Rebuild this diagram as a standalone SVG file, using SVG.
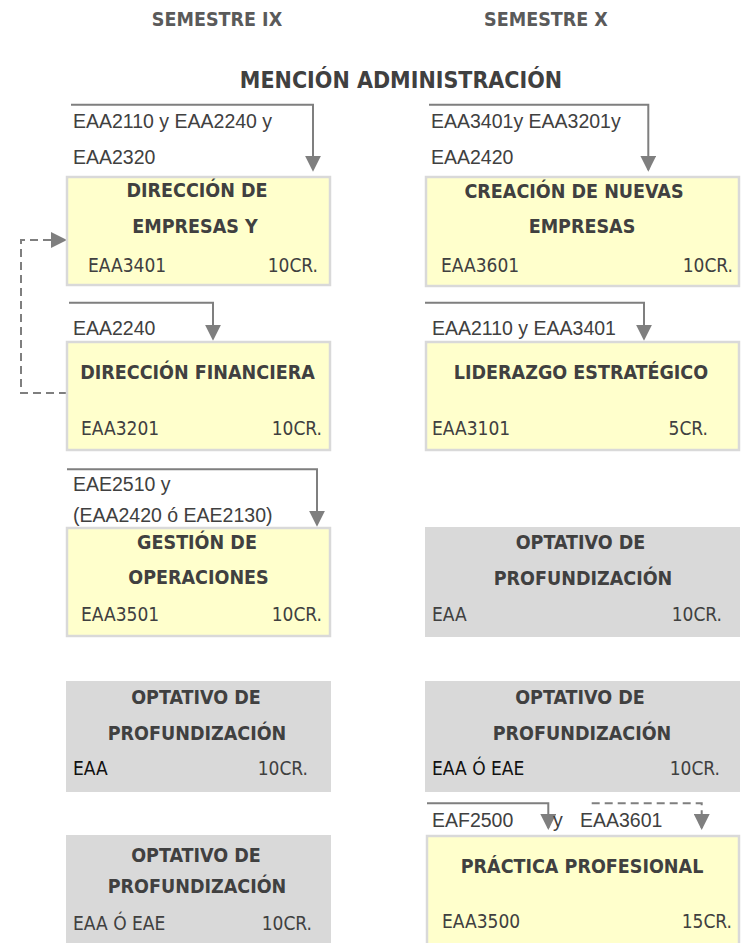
<svg xmlns="http://www.w3.org/2000/svg" width="749" height="943" viewBox="0 0 749 943">
<style>
.hdr{font-family:"DejaVu Sans Condensed","DejaVu Sans",sans-serif;font-stretch:condensed;font-weight:bold;font-size:19.5px;fill:#5a5a5a;text-anchor:middle}
.title{font-family:"DejaVu Sans Condensed","DejaVu Sans",sans-serif;font-stretch:condensed;font-weight:bold;font-size:23px;fill:#404040;text-anchor:middle}
.t{font-family:"DejaVu Sans Condensed","DejaVu Sans",sans-serif;font-stretch:condensed;font-weight:bold;font-size:19.5px;fill:#404040;text-anchor:middle}
.c{font-family:"DejaVu Sans Condensed","DejaVu Sans",sans-serif;font-stretch:condensed;font-size:19px;fill:#404040}
.cr{font-family:"DejaVu Sans Condensed","DejaVu Sans",sans-serif;font-stretch:condensed;font-size:19px;fill:#404040;text-anchor:end}
.k{fill:#111111}
.lbl{font-family:"Liberation Sans",Arial,sans-serif;font-size:19.5px;fill:#404040}
.yel{fill:#ffffcc;stroke:#d9d9d9;stroke-width:2.5}
.gry{fill:#d9d9d9}
.ln{fill:none;stroke:#7f7f7f;stroke-width:2}
.dash{fill:none;stroke:#7f7f7f;stroke-width:2;stroke-dasharray:8,5}
</style>
<defs>
<marker id="ah" markerUnits="userSpaceOnUse" markerWidth="16" markerHeight="16" viewBox="0 0 16 16" refX="14" refY="8" orient="auto">
<path d="M0,0 L16,8 L0,16 z" fill="#7f7f7f"/>
</marker>
</defs>
<rect width="749" height="943" fill="#ffffff"/>
<g id="headers">
<text class="hdr" x="217" y="26">SEMESTRE IX</text>
<text class="hdr" x="546" y="26">SEMESTRE X</text>
<text class="title" x="401" y="88">MENCIÓN ADMINISTRACIÓN</text>
</g>
<g id="connectors">
<path class="ln" d="M71,104.7 H313 V169.7" marker-end="url(#ah)"/>
<path class="ln" d="M69,302.7 H213 V338.7" marker-end="url(#ah)"/>
<path class="ln" d="M67,469.3 H317 V524.7" marker-end="url(#ah)"/>
<path class="dash" d="M67,393 H21 V240 H65" marker-end="url(#ah)"/>
<path class="ln" d="M429,104.7 H648.3 V169.7" marker-end="url(#ah)"/>
<path class="ln" d="M425,302.7 H644 V338.7" marker-end="url(#ah)"/>
<path class="ln" d="M427,803.3 H548.3 V828" marker-end="url(#ah)"/>
<path class="dash" d="M591.7,803.3 H701.7 V828" marker-end="url(#ah)"/>
</g>
<g id="labels">
<text class="lbl" x="73" y="128">EAA2110 y EAA2240 y</text>
<text class="lbl" x="73" y="164">EAA2320</text>
<text class="lbl" x="73" y="335">EAA2240</text>
<text class="lbl" x="73" y="491">EAE2510 y</text>
<text class="lbl" x="73" y="522">(EAA2420 ó EAE2130)</text>
<text class="lbl" x="431" y="128">EAA3401y EAA3201y</text>
<text class="lbl" x="431" y="164">EAA2420</text>
<text class="lbl" x="432" y="335">EAA2110 y EAA3401</text>
<text class="lbl" x="432" y="827">EAF2500</text>
<text class="lbl" x="553" y="827">y</text>
<text class="lbl" x="580" y="827">EAA3601</text>
</g>
<g id="EAA3401">
<rect class="yel" x="67" y="177" width="263" height="108"/>
<text class="t" x="197" y="197">DIRECCIÓN DE</text>
<text class="t" x="195" y="233">EMPRESAS Y</text>
<text class="c" x="88" y="272">EAA3401</text>
<text class="cr" x="318" y="272">10CR.</text>
</g>
<g id="EAA3201">
<rect class="yel" x="67" y="342" width="263" height="108"/>
<text class="t" x="197.5" y="379">DIRECCIÓN FINANCIERA</text>
<text class="c" x="81" y="435">EAA3201</text>
<text class="cr" x="322" y="435">10CR.</text>
</g>
<g id="EAA3501">
<rect class="yel" x="67" y="528" width="263" height="108"/>
<text class="t" x="197" y="549">GESTIÓN DE</text>
<text class="t" x="198.5" y="584">OPERACIONES</text>
<text class="c" x="81" y="621">EAA3501</text>
<text class="cr" x="322" y="621">10CR.</text>
</g>
<g id="optL1">
<rect class="gry" x="66" y="681" width="265" height="111"/>
<text class="t" x="196" y="704">OPTATIVO DE</text>
<text class="t" x="197" y="740">PROFUNDIZACIÓN</text>
<text class="c k" x="73" y="775">EAA</text>
<text class="cr" x="308" y="775">10CR.</text>
</g>
<g id="optL2">
<rect class="gry" x="66" y="835" width="265" height="115"/>
<text class="t" x="196" y="862">OPTATIVO DE</text>
<text class="t" x="197" y="893">PROFUNDIZACIÓN</text>
<text class="c" x="73" y="930">EAA Ó EAE</text>
<text class="cr" x="312" y="930">10CR.</text>
</g>
<g id="EAA3601">
<rect class="yel" x="426" y="177" width="313" height="109"/>
<text class="t" x="574" y="198">CREACIÓN DE NUEVAS</text>
<text class="t" x="582" y="233">EMPRESAS</text>
<text class="c" x="441" y="272">EAA3601</text>
<text class="cr" x="733" y="272">10CR.</text>
</g>
<g id="EAA3101">
<rect class="yel" x="426" y="342" width="313" height="108"/>
<text class="t" x="581" y="379">LIDERAZGO ESTRATÉGICO</text>
<text class="c" x="432" y="435">EAA3101</text>
<text class="cr" x="708" y="435">5CR.</text>
</g>
<g id="optR1">
<rect class="gry" x="425" y="527" width="315" height="110"/>
<text class="t" x="580.5" y="549">OPTATIVO DE</text>
<text class="t" x="583" y="585">PROFUNDIZACIÓN</text>
<text class="c" x="432" y="621">EAA</text>
<text class="cr" x="722" y="621">10CR.</text>
</g>
<g id="optR2">
<rect class="gry" x="425" y="681" width="315" height="111"/>
<text class="t" x="580" y="704">OPTATIVO DE</text>
<text class="t" x="582" y="740">PROFUNDIZACIÓN</text>
<text class="c k" x="432" y="775">EAA Ó EAE</text>
<text class="cr" x="720" y="775">10CR.</text>
</g>
<g id="EAA3500">
<rect class="yel" x="427" y="836" width="312" height="120"/>
<text class="t" x="582" y="873">PRÁCTICA PROFESIONAL</text>
<text class="c" x="442" y="928">EAA3500</text>
<text class="cr" x="732" y="928">15CR.</text>
</g>
</svg>
